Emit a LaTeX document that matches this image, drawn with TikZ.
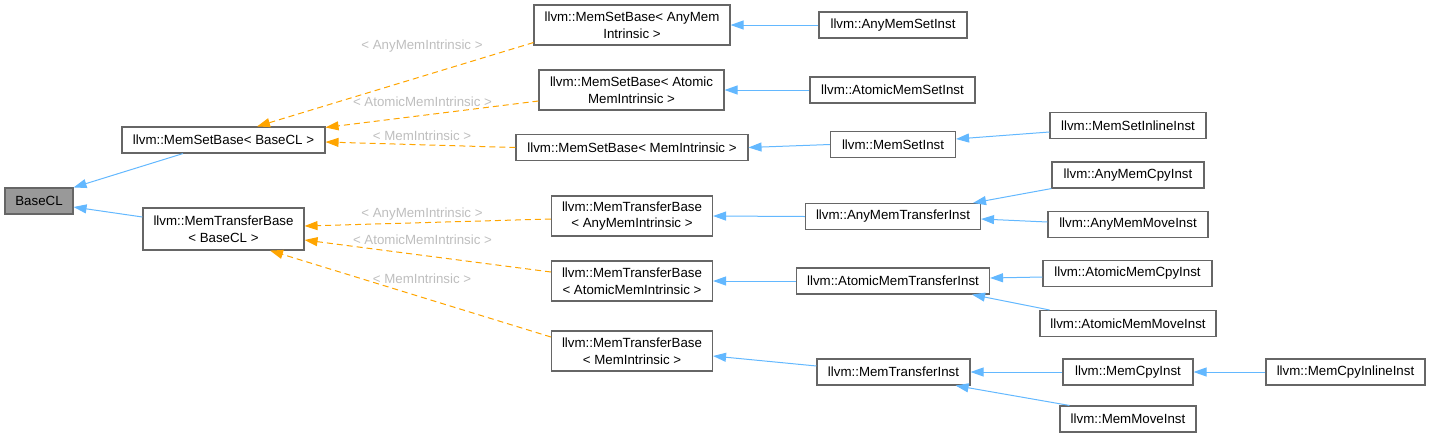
\documentclass[tikz,border=0pt]{standalone}
\usepackage{fontspec}
\setmainfont{Liberation Sans}
\usetikzlibrary{arrows.meta}
\definecolor{edgeblue}{HTML}{63B8FF}
\definecolor{edgeorange}{HTML}{FFA500}
\definecolor{nodeborder}{HTML}{666666}
\definecolor{labelgrey}{HTML}{BEBEBE}
\definecolor{basefill}{HTML}{999999}
\begin{document}
\begin{tikzpicture}[x=1pt,y=-1pt,
  font=\fontsize{13.3}{16.5}\selectfont,
  box/.style={draw=nodeborder, line width=1.1pt, fill=white, rectangle, inner sep=0pt, align=center, text=black},
  inh/.style={draw=edgeblue, line width=1pt, -{Triangle[length=13pt,width=9pt]}},
  tmpl/.style={draw=edgeorange, line width=1pt, dash pattern=on 6pt off 4pt, -{Triangle[length=13pt,width=9pt]}},
  lbl/.style={text=labelgrey, inner sep=0pt}]
\useasboundingbox (0,0) rectangle (1431,440);
% nodes
\node[box, fill=basefill, minimum width=68pt, minimum height=26pt] (base) at (39,201) {BaseCL};
\node[box, minimum width=203pt, minimum height=26pt] (msbase) at (223.5,140) {llvm::MemSetBase< BaseCL >};
\node[box, minimum width=161pt, minimum height=42pt] (mtbase) at (223.5,229) {llvm::MemTransferBase\\< BaseCL >};
\node[box, minimum width=196pt, minimum height=40pt] (msany) at (632,25) {llvm::MemSetBase< AnyMem\\Intrinsic >};
\node[box, minimum width=185pt, minimum height=40pt] (msatom) at (631.5,90) {llvm::MemSetBase< Atomic\\MemIntrinsic >};
\node[box, minimum width=232pt, minimum height=26pt] (msmem) at (632,147.5) {llvm::MemSetBase< MemIntrinsic >};
\node[box, minimum width=161pt, minimum height=40pt] (mtany) at (632,216) {llvm::MemTransferBase\\< AnyMemIntrinsic >};
\node[box, minimum width=161pt, minimum height=40pt] (mtatom) at (632,281) {llvm::MemTransferBase\\< AtomicMemIntrinsic >};
\node[box, minimum width=161pt, minimum height=40pt] (mtmem) at (632,351) {llvm::MemTransferBase\\< MemIntrinsic >};
\node[box, minimum width=148pt, minimum height=26pt] (anyset) at (893,25) {llvm::AnyMemSetInst};
\node[box, minimum width=165pt, minimum height=26pt] (atomset) at (892.5,90) {llvm::AtomicMemSetInst};
\node[box, minimum width=125pt, minimum height=26pt] (memset) at (893,144.5) {llvm::MemSetInst};
\node[box, minimum width=156pt, minimum height=26pt] (setinline) at (1128,125.5) {llvm::MemSetInlineInst};
\node[box, minimum width=152pt, minimum height=26pt] (anycpy) at (1128,175) {llvm::AnyMemCpyInst};
\node[box, minimum width=175pt, minimum height=26pt] (anytrans) at (893,216.5) {llvm::AnyMemTransferInst};
\node[box, minimum width=160pt, minimum height=26pt] (anymove) at (1128,224.5) {llvm::AnyMemMoveInst};
\node[box, minimum width=193pt, minimum height=26pt] (atomtrans) at (893,281) {llvm::AtomicMemTransferInst};
\node[box, minimum width=169pt, minimum height=26pt] (atomcpy) at (1127.5,273.5) {llvm::AtomicMemCpyInst};
\node[box, minimum width=176pt, minimum height=26pt] (atommove) at (1128,323.5) {llvm::AtomicMemMoveInst};
\node[box, minimum width=153pt, minimum height=26pt] (memtrans) at (893.5,372) {llvm::MemTransferInst};
\node[box, minimum width=130pt, minimum height=26pt] (memcpy) at (1128,372) {llvm::MemCpyInst};
\node[box, minimum width=159pt, minimum height=26pt] (cpyinline) at (1345.5,372) {llvm::MemCpyInlineInst};
\node[box, minimum width=136pt, minimum height=26pt] (memmove) at (1128,419) {llvm::MemMoveInst};
% edges to BaseCL
\draw[inh] ([xshift=-40.5pt]msbase.south) -- (base.north east);
\draw[inh] ([yshift=12pt]mtbase.west) -- ([yshift=-6pt]base.east);
% template edges
\draw[tmpl] ([yshift=3pt]msany.south west) -- ([xshift=33.5pt]msbase.north);
\draw[tmpl] ([yshift=-11pt]msatom.west) -- ([yshift=-1pt]msbase.north east);
\draw[tmpl] (msmem.west) -- ([yshift=-2pt]msbase.east);
\draw[tmpl] ([yshift=-3pt]mtany.west) -- ([yshift=3pt]mtbase.east);
\draw[tmpl] ([yshift=9pt]mtatom.west) -- ([yshift=-11pt]mtbase.east);
\draw[tmpl] ([yshift=14pt]mtmem.west) -- ([xshift=46.5pt]mtbase.south);
% template labels
\node[lbl] (l1) at (422,46) {< AnyMemIntrinsic >};
\node[lbl] (l2) at (422.5,102) {< AtomicMemIntrinsic >};
\node[lbl] (l3) at (422,135.5) {< MemIntrinsic >};
\node[lbl] (l4) at (422,214) {< AnyMemIntrinsic >};
\node[lbl] (l5) at (422.5,240) {< AtomicMemIntrinsic >};
\node[lbl] (l6) at (422,279) {< MemIntrinsic >};
% inheritance edges
\draw[inh] (anyset.west) -- (msany.east);
\draw[inh] (atomset.west) -- (msatom.east);
\draw[inh] (memset.west) -- (msmem.east);
\draw[inh] ([yshift=-6.5pt]setinline.west) -- ([yshift=5.5pt]memset.east);
\draw[inh] (anytrans.west) -- (mtany.east);
\draw[inh] (anycpy.south west) -- ([xshift=-8pt]anytrans.north east);
\draw[inh] ([yshift=2.5pt]anymove.west) -- ([yshift=-2.5pt]anytrans.east);
\draw[inh] (atomtrans.west) -- (mtatom.east);
\draw[inh] ([yshift=-3.5pt]atomcpy.west) -- ([yshift=3pt]atomtrans.east);
\draw[inh] ([xshift=10pt]atommove.north west) -- ([xshift=-18pt]atomtrans.south east);
\draw[inh] ([yshift=6pt]memtrans.west) -- ([yshift=-5pt]mtmem.east);
\draw[inh] (memcpy.west) -- (memtrans.east);
\draw[inh] (cpyinline.west) -- (memcpy.east);
\draw[inh] ([xshift=10pt]memmove.north west) -- ([xshift=-15pt]memtrans.south east);
\end{tikzpicture}
\end{document}
